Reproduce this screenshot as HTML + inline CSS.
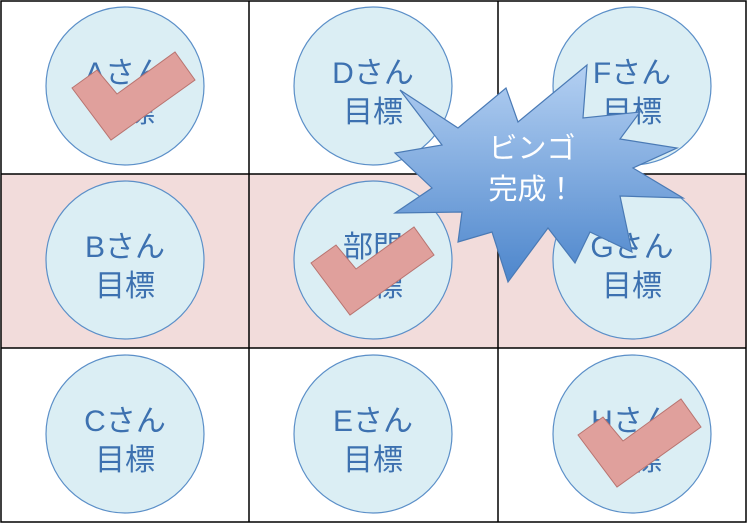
<!DOCTYPE html><html><head><meta charset="utf-8"><style>body{margin:0;background:#fff}svg{display:block}text{font-family:"Liberation Sans","Noto Sans CJK JP",sans-serif}</style></head><body>
<svg width="748" height="527" viewBox="0 0 748 527" xmlns="http://www.w3.org/2000/svg">
<defs><linearGradient id="g" x1="0" y1="0" x2="0" y2="1"><stop offset="0" stop-color="#b4d0f2"/><stop offset="1" stop-color="#4d86cc"/></linearGradient>
<g id="ck"><polygon points="72,88 97,70 117,94 175,52 195,80 111,140" fill="#e0a09c" stroke="#b87470" stroke-width="1"/></g></defs>
<rect x="1" y="174" width="746" height="174" fill="#f2dcdb"/>
<g stroke="#000" stroke-width="1.5" fill="none"><rect x="1" y="1" width="745" height="521"/><line x1="249" y1="1" x2="249" y2="522"/><line x1="498" y1="1" x2="498" y2="522"/><line x1="1" y1="174" x2="746" y2="174"/><line x1="1" y1="348" x2="746" y2="348"/></g>
<g fill="#dbeef4" stroke="#5b8fc8" stroke-width="1.2">
<circle cx="125" cy="86" r="79"/><circle cx="373" cy="86" r="79"/><circle cx="632" cy="86" r="79"/>
<circle cx="125" cy="260" r="79"/><circle cx="373" cy="260" r="79"/><circle cx="632" cy="260" r="79"/>
<circle cx="125" cy="434" r="79"/><circle cx="373" cy="434" r="79"/><circle cx="632" cy="434" r="79"/></g>
<g fill="#3d71b0" font-size="30" text-anchor="middle">
<text x="125" y="83">Aさん</text><text x="125" y="122">目標</text>
<text x="373" y="83">Dさん</text><text x="373" y="122">目標</text>
<text x="632" y="83">Fさん</text><text x="632" y="122">目標</text>
<text x="125" y="257">Bさん</text><text x="125" y="296">目標</text>
<text x="373" y="257">部門</text><text x="373" y="296">目標</text>
<text x="632" y="257">Gさん</text><text x="632" y="296">目標</text>
<text x="125" y="431">Cさん</text><text x="125" y="470">目標</text>
<text x="373" y="431">Eさん</text><text x="373" y="470">目標</text>
<text x="632" y="431">Hさん</text><text x="632" y="470">目標</text></g>
<use href="#ck"/><use href="#ck" x="239" y="175"/><use href="#ck" x="506" y="347"/>
<polygon points="400,90 458,128 506,88 518,122 587,65 583,118 640,112 620,139 677,148 633,168 683,198 620,196 632,252 590,232 575,263 548,228 508,282 492,232 458,242 462,212 395,213 432,188 395,153 442,145" fill="url(#g)" stroke="#4a7ab5" stroke-width="1.2"/>
<g fill="#fff" font-size="29" text-anchor="middle"><text x="532" y="158">ビンゴ</text><text x="532" y="199">完成！</text></g>
</svg></body></html>
